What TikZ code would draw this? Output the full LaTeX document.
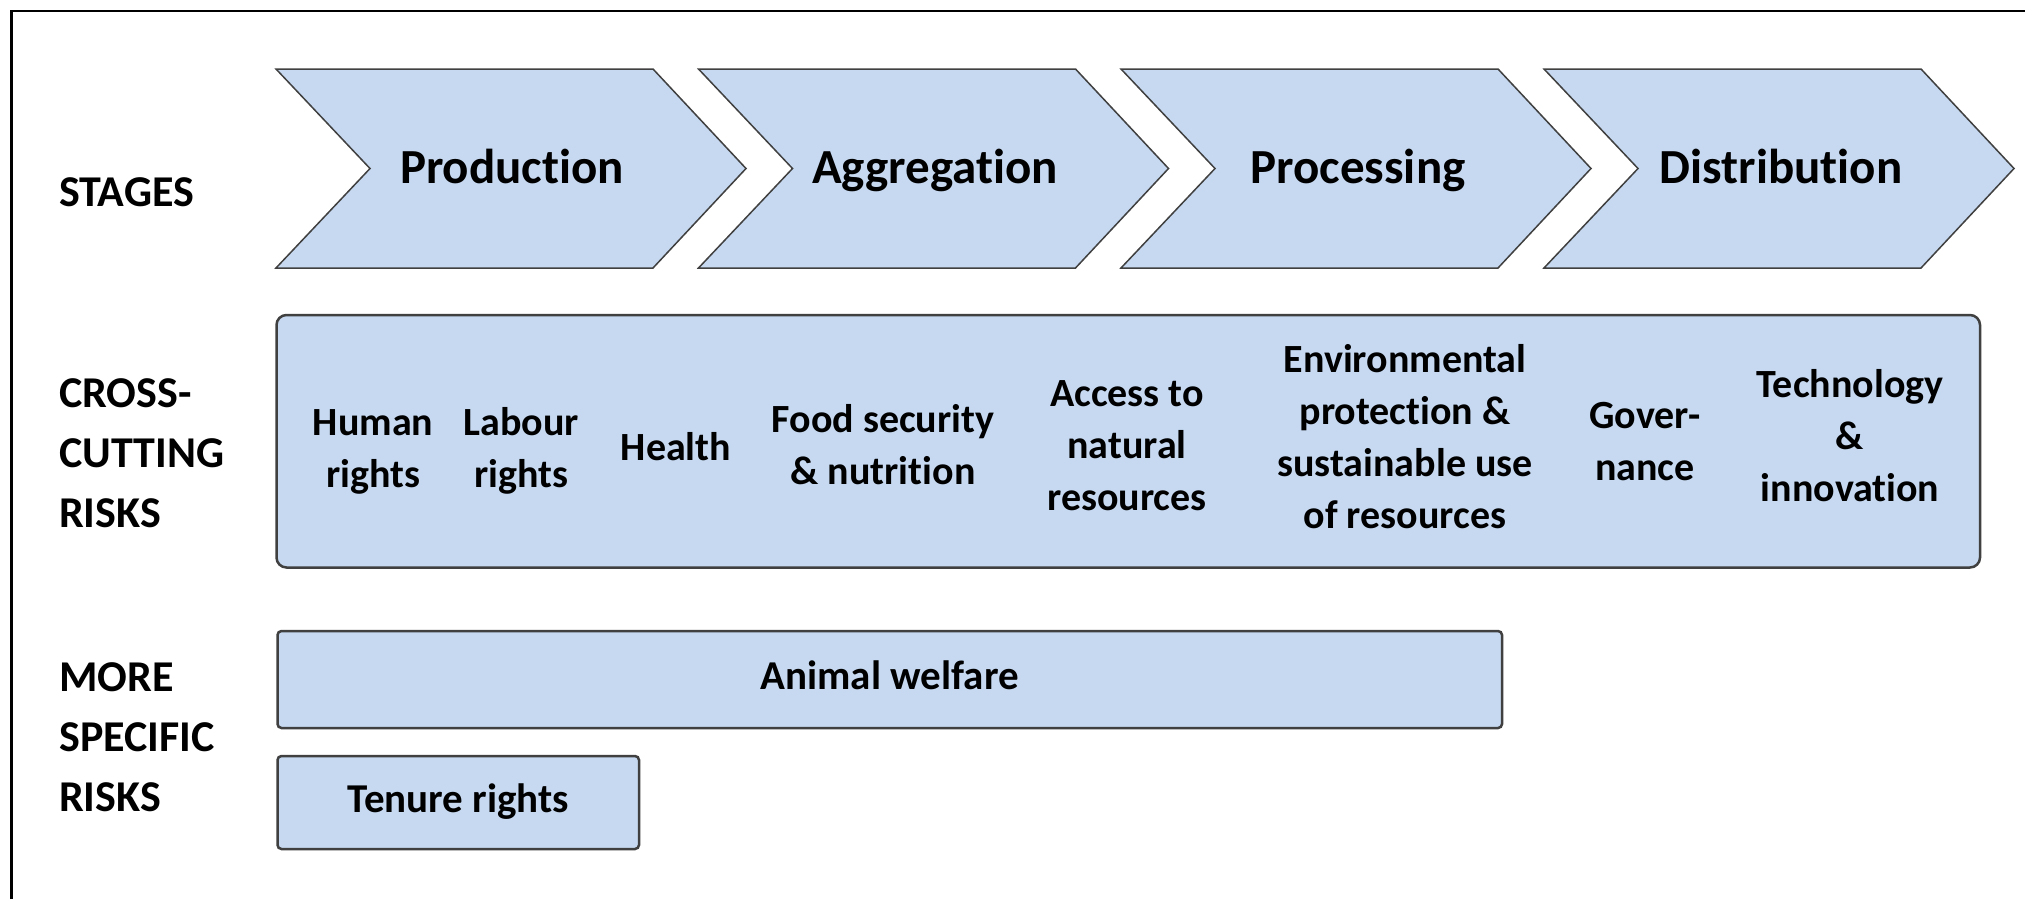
\documentclass[tikz,border=0pt]{standalone}
\usepackage{fontspec}
\setmainfont{Carlito}[Ligatures=NoCommon]
\definecolor{boxfill}{HTML}{C6D9F1}
\definecolor{edge}{HTML}{404040}
\tikzset{
  chev/.style={fill=boxfill, draw=edge, line width=1.5pt, line join=miter},
  riskbox/.style={fill=boxfill, draw=edge, line width=2.5pt, rounded corners=4pt, inner sep=0pt,
                  font=\fontsize{41}{50}\selectfont\bfseries},
  stagetxt/.style={font=\fontsize{49}{59}\selectfont\bfseries, anchor=base, inner sep=0pt},
  rowlabel/.style={font=\fontsize{44}{60}\selectfont\bfseries, align=left, anchor=west, inner sep=0pt},
  item/.style={font=\fontsize{40}{52}\selectfont\bfseries, align=center, inner sep=0pt},
}
\begin{document}
\begin{tikzpicture}[x=1pt,y=-1pt]
\useasboundingbox (0,0) rectangle (2025,899);
\fill[white] (0,0) rectangle (2025,899);
% outer frame (open at right and bottom)
\draw[line width=2.2pt] (11.5,899) -- (11.5,11) -- (2025,11);

% stage chevrons
\foreach \x/\nm in {276/c1,698.5/c2,1121/c3,1544/c4}{
  \draw[chev] (\x,69) -- ++(377,0) -- ++(93,99.5) -- ++(-93,99.5) -- ++(-377,0) -- ++(94,-99.5) -- cycle;
}
\node[stagetxt] (prod) at (512,183) {Production};
\node[stagetxt] (aggr) at (935,183) {Aggregation};
\node[stagetxt] (proc) at (1358,183) {Processing};
\node[stagetxt] (dist) at (1781,183) {Distribution};

% row labels
\node[rowlabel] (lstages) at (59,194) {\strut STAGES};
\node[rowlabel] (lcross) at (59,455.5) {\strut CROSS-\\\strut CUTTING\\\strut RISKS};
\node[rowlabel] (lmore) at (59,739) {\strut MORE\\\strut SPECIFIC\\\strut RISKS};

% cross-cutting risks box
\node[fill=boxfill, draw=edge, line width=2.5pt, rounded corners=10pt,
      minimum width=1703.5pt, minimum height=252.5pt, inner sep=0pt] (cross) at (1128.25,441.25) {};
\node[item] (human) at (373,450.6) {\strut Human\\\strut rights};
\node[item] (labour) at (521,450.6) {\strut Labour\\\strut rights};
\node[item] (health) at (676,449.6) {\strut Health};
\node[item] (food) at (883,448) {\strut Food security\\\strut \& nutrition};
\node[item] (access) at (1127,448) {\strut Access to\\\strut natural\\\strut resources};
\node[item] (env) at (1405,439.6) {\strut Environmental\\\strut protection \&\\\strut sustainable use\\\strut of resources};
\node[item] (gov) at (1645,443.6) {\strut Gover-\\\strut nance};
\node[item] (tech) at (1850,439) {\strut Technology\\\strut \&\\\strut innovation};

% more specific risks
\node[riskbox, minimum width=1224.5pt, minimum height=97pt] (animal) at (889.75,679.5) {\strut Animal welfare};
\node[riskbox, minimum width=361.5pt, minimum height=93pt] (tenure) at (458.25,802.5) {\strut Tenure rights};
\end{tikzpicture}
\end{document}
